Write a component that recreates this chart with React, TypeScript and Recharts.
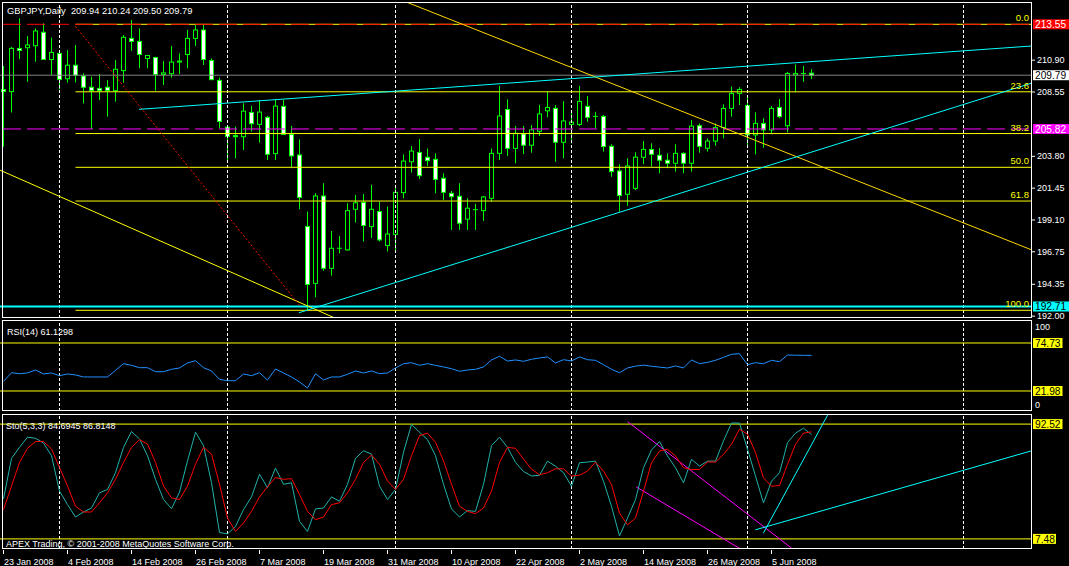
import React from 'react';
import { ComposedChart, Bar, Line, XAxis, YAxis, ReferenceLine } from 'recharts';

const FONT = "'Liberation Sans', Arial, Helvetica, sans-serif";
const GREEN = '#00ff00';

// ---- price data (GBPJPY daily, bar 0 = 23 Jan 2008) ----
const opens = [
  208.73, 208.58, 211.77, 211.82, 211.97, 212.96, 210.95, 211.40, 209.53, 210.53,
  209.73, 208.90, 208.82, 208.90, 208.65, 210.13, 212.51, 212.29, 211.02, 211.10,
  209.85, 209.90, 210.76, 211.32, 212.51, 213.13, 210.88, 209.41, 205.95, 205.33,
  205.25, 207.04, 206.16, 206.68, 204.00, 207.49, 205.42, 203.90, 198.61, 194.42,
  200.87, 195.53, 197.01, 196.89, 199.89, 200.40, 198.61, 199.72, 197.21, 198.04,
  201.12, 203.40, 204.09, 203.73, 203.58, 202.18, 201.07, 200.85, 199.16, 199.84,
  199.79, 200.70, 204.02, 207.26, 204.39, 205.45, 204.62, 205.65, 207.16, 207.34,
  204.84, 206.16, 206.16, 207.49, 206.75, 206.75, 204.54, 202.72, 201.00, 201.44,
  203.73, 204.31, 203.88, 203.51, 203.29, 204.02, 203.29, 206.06, 204.40, 204.93,
  205.92, 207.34, 208.45, 207.56, 205.38, 206.23, 205.75, 207.41, 206.06, 209.80,
  209.92, 209.94,
];
const highs = [
  210.47, 211.89, 214.00, 212.68, 213.25, 213.62, 212.56, 211.64, 211.64, 212.02,
  209.93, 209.68, 209.88, 209.43, 210.91, 212.76, 213.87, 213.25, 211.27, 211.15,
  210.84, 211.94, 211.40, 213.13, 213.50, 213.50, 211.02, 209.61, 206.00, 206.00,
  207.71, 207.54, 207.96, 206.78, 208.01, 207.96, 206.04, 205.05, 199.72, 201.08,
  201.81, 198.29, 197.92, 200.34, 200.95, 201.02, 201.69, 200.45, 200.09, 201.69,
  203.95, 204.56, 205.07, 204.38, 204.02, 202.55, 201.24, 201.81, 200.70, 200.29,
  200.87, 204.38, 209.00, 208.01, 206.04, 206.04, 206.11, 207.59, 208.57, 207.59,
  207.88, 207.09, 209.00, 208.25, 207.09, 206.85, 204.69, 203.22, 203.65, 204.10,
  204.93, 204.76, 204.40, 204.02, 204.69, 204.10, 206.48, 206.23, 205.13, 206.23,
  207.64, 208.95, 208.90, 208.33, 207.05, 206.61, 207.51, 208.03, 210.04, 210.58,
  210.48, 210.24,
];
const lows = [
  204.51, 207.04, 210.98, 209.31, 210.78, 210.93, 209.80, 208.75, 209.24, 209.26,
  207.71, 205.82, 207.96, 206.73, 207.83, 209.24, 211.59, 210.30, 210.30, 208.65,
  209.07, 209.61, 209.88, 210.30, 211.94, 210.55, 209.43, 205.87, 203.40, 203.65,
  204.26, 205.62, 204.81, 203.53, 203.53, 205.38, 202.92, 199.89, 192.45, 193.39,
  195.35, 194.99, 196.64, 196.84, 198.91, 197.51, 197.76, 197.51, 196.77, 196.89,
  200.70, 202.60, 202.13, 203.09, 201.07, 200.58, 198.37, 198.37, 198.37, 198.37,
  199.03, 200.45, 203.53, 203.83, 203.28, 203.97, 204.07, 205.30, 206.68, 203.40,
  203.65, 204.76, 206.03, 206.36, 205.87, 204.15, 202.30, 199.72, 200.15, 201.30,
  203.23, 203.04, 202.55, 202.92, 202.67, 202.55, 202.67, 204.07, 204.15, 204.59,
  205.13, 206.73, 207.59, 204.57, 203.95, 204.44, 205.43, 206.61, 205.57, 208.52,
  209.31, 209.50,
];
const closes = [
  208.58, 211.77, 211.62, 212.02, 213.06, 210.95, 211.47, 209.48, 210.53, 209.78,
  208.90, 208.65, 208.65, 208.65, 210.23, 212.59, 212.29, 211.32, 211.25, 209.85,
  209.96, 210.76, 210.84, 212.51, 213.13, 210.95, 209.46, 206.38, 205.28, 205.25,
  207.14, 206.21, 207.07, 203.95, 207.51, 205.42, 203.83, 200.77, 194.34, 200.87,
  195.53, 197.01, 196.98, 199.79, 200.37, 198.69, 199.89, 197.63, 198.06, 201.14,
  203.45, 204.19, 202.37, 203.48, 202.10, 201.14, 200.82, 198.86, 199.97, 199.86,
  200.80, 204.02, 206.78, 204.39, 205.50, 204.62, 205.75, 206.93, 207.41, 204.84,
  206.41, 206.33, 207.86, 206.68, 206.72, 204.52, 202.67, 200.90, 203.09, 203.74,
  204.31, 203.95, 203.51, 203.29, 204.02, 203.29, 206.03, 204.54, 204.93, 205.92,
  207.34, 208.45, 208.74, 205.38, 206.23, 205.75, 207.34, 206.73, 209.92, 209.92,
  209.86, 209.79,
];
const rsi14 = [
  32.6, 42.1, 41.0, 41.8, 45.1, 40.7, 41.8, 38.8, 40.7, 39.6,
  37.4, 37.4, 37.4, 37.4, 44.7, 52.0, 50.2, 47.6, 47.6, 43.2,
  43.2, 45.8, 47.3, 52.8, 55.3, 47.6, 44.0, 34.8, 33.3, 33.3,
  40.7, 38.8, 42.1, 34.1, 46.2, 41.8, 37.4, 31.9, 25.3, 41.0,
  34.1, 37.4, 37.4, 40.3, 44.0, 41.8, 44.0, 41.0, 41.8, 47.3,
  52.0, 53.1, 50.2, 52.0, 50.2, 48.4, 46.5, 43.6, 45.1, 45.8,
  48.4, 56.1, 60.1, 54.9, 56.1, 54.6, 56.8, 58.3, 59.4, 52.8,
  56.4, 55.0, 59.4, 56.4, 55.7, 50.9, 45.8, 42.1, 47.3, 49.3,
  50.4, 49.2, 48.2, 47.3, 49.5, 47.3, 56.1, 52.0, 53.5, 55.7,
  59.0, 62.3, 63.0, 50.9, 53.1, 52.0, 55.7, 54.2, 61.5, 61.3,
  61.2, 61.13,
];
const stochMain = [
  37.2, 67.1, 75.3, 82.8, 82.0, 78.5, 69.1, 42.9, 32.9, 23.7,
  27.4, 30.4, 41.6, 44.1, 56.6, 75.3, 87.0, 81.5, 69.1, 51.6,
  36.7, 29.9, 42.1, 65.3, 86.5, 76.6, 49.1, 12.2, 11.2, 16.7,
  29.2, 38.6, 55.4, 45.4, 59.9, 47.9, 49.1, 20.5, 13.0, 29.7,
  30.4, 38.6, 35.4, 47.9, 67.1, 72.8, 70.3, 46.6, 36.7, 44.1,
  71.6, 92.3, 86.5, 81.0, 69.1, 47.9, 29.7, 23.7, 28.4, 27.9,
  47.9, 76.6, 82.8, 75.3, 64.1, 57.4, 54.1, 54.6, 65.1, 61.4,
  56.5, 46.5, 63.9, 64.4, 65.1, 50.2, 31.6, 9.7, 22.9, 36.6,
  60.2, 73.4, 79.6, 68.9, 60.2, 49.0, 66.4, 61.4, 65.1, 65.1,
  80.1, 93.3, 93.3, 73.9, 54.0, 34.1, 50.2, 56.5, 78.8, 85.8,
  89.5, 84.69,
];
const stochSignal = [
  29.2, 46.6, 64.1, 74.6, 79.6, 79.6, 74.1, 60.4, 46.6, 31.7,
  27.4, 27.4, 34.2, 41.6, 51.6, 64.1, 75.3, 81.0, 77.8, 64.1,
  46.6, 37.9, 36.6, 46.6, 62.8, 75.3, 70.3, 47.9, 22.9, 13.0,
  19.2, 27.9, 38.6, 46.1, 52.9, 51.6, 52.1, 40.4, 27.9, 21.7,
  23.7, 32.9, 34.2, 41.6, 51.6, 64.1, 69.6, 62.8, 50.4, 44.1,
  51.6, 69.1, 84.0, 85.8, 79.1, 65.3, 47.9, 31.7, 27.9, 26.2,
  30.4, 42.9, 64.1, 75.3, 74.6, 66.6, 59.1, 55.0, 56.5, 59.4,
  59.4, 54.0, 54.7, 57.7, 64.4, 57.7, 47.7, 26.6, 17.9, 22.9,
  42.8, 63.9, 72.6, 73.9, 68.9, 60.2, 58.9, 58.9, 64.4, 64.4,
  70.1, 77.6, 88.8, 85.1, 71.4, 52.7, 46.5, 47.0, 62.7, 77.6,
  85.8, 86.81,
];

// ---- axis labels ----
const dateLabels = [
  '23 Jan 2008', '4 Feb 2008', '14 Feb 2008', '26 Feb 2008', '7 Mar 2008', '19 Mar 2008',
  '31 Mar 2008', '10 Apr 2008', '22 Apr 2008', '2 May 2008', '14 May 2008', '26 May 2008', '5 Jun 2008',
];
const labelBars = [0, 8, 16, 24, 32, 40, 48, 56, 64, 72, 80, 88, 96];
const monthStartBars = [7, 28, 49, 71, 93, 120];
const priceTicks = [192.0, 194.35, 196.75, 199.1, 201.45, 203.8, 208.55, 210.9];

// ---- objects on the chart ----
const fiboLabels = ['0.0', '23.6', '38.2', '50.0', '61.8', '100.0'];
const fiboRatios = [0, 0.236, 0.382, 0.5, 0.618, 1];
const fiboHigh = 213.55;
const fiboLow = 192.43;
const fiboStartBar = 9;
const redLevel = 213.55;
const bidLevel = 209.79;
const magentaLevel = 205.82;
const cyanLevel = 192.71;
const rsiLevels = [74.73, 21.98];
const stochLevels = [92.52, 7.48];

const goldTrend = [{ x: 50.5, y: 215.16 }, { x: 128.5625, y: 196.88 }];
const yellowTrend = [{ x: -0.4375, y: 202.78 }, { x: 42, y: 191.71 }];
const redDotTrend = [{ x: 9, y: 213.4 }, { x: 37, y: 192.8 }];
const cyanLowTrend = [{ x: 36.94, y: 192.25 }, { x: 128.5625, y: 209.215 }];
const cyanHighTrend = [{ x: 16.94, y: 207.27 }, { x: 128.5625, y: 211.95 }];
const stoMagentaA = [{ x: 78.03, y: 94.26 }, { x: 98.65, y: 0 }];
const stoMagentaB = [{ x: 79.09, y: 46.0 }, { x: 92.14, y: 0 }];
const stoCyanSteep = [{ x: 94.98, y: 11.7 }, { x: 103.09, y: 100 }];
const stoCyanFlat = [{ x: 93.98, y: 14.2 }, { x: 128.5625, y: 72.83 }];

const TOTAL_SLOTS = 129;
const X_DOMAIN: [number, number] = [-0.4375, 128.5625];
const MAIN_DOMAIN: [number, number] = [191.861, 215.197];

const rows = Array.from({ length: TOTAL_SLOTS }, (_, i) =>
  i < opens.length
    ? {
        i,
        o: opens[i],
        h: highs[i],
        l: lows[i],
        c: closes[i],
        range: [lows[i], highs[i]],
        rsi: rsi14[i],
        k: stochMain[i],
        d: stochSignal[i],
      }
    : { i }
);

const Candle = (props: any) => {
  const { x, y, width, height, payload } = props;
  if (!payload || payload.o == null || !Number.isFinite(x) || !Number.isFinite(y) || !Number.isFinite(height)) {
    return <g />;
  }
  const { o, h, l, c } = payload;
  const yTop = Math.min(y, y + height);
  const span = Math.abs(height);
  const k = h > l ? span / (h - l) : 0;
  const py = (p: number) => yTop + (h - p) * k;
  const cx = Math.round(x + width / 2) - 0.5;
  const bodyTop = py(Math.max(o, c));
  const bodyBot = py(Math.min(o, c));
  const bull = c > o;
  return (
    <g>
      <line x1={cx} x2={cx} y1={yTop} y2={yTop + span} stroke={GREEN} strokeWidth={1} />
      {bodyBot - bodyTop < 1 ? (
        <line x1={cx - 2.5} x2={cx + 2.5} y1={bodyTop} y2={bodyTop} stroke={GREEN} strokeWidth={1} />
      ) : (
        <rect x={cx - 2} y={bodyTop} width={4} height={bodyBot - bodyTop} fill={bull ? '#000' : '#fff'} stroke={GREEN} strokeWidth={1} />
      )}
    </g>
  );
};

const valueBox = (text: string, bg: string, fg: string) => (props: any) => {
  const vb = props.viewBox;
  if (!vb) return null;
  const x = vb.x + vb.width + 1;
  const digits = text.replace(/\D/g, '').length;
  const w = digits * 6.5 + 3.5;
  return (
    <g>
      <rect x={x} y={vb.y - 5} width={w} height={10} fill={bg} />
      <text x={x + 2} y={vb.y + 3.8} fill={fg} fontSize={10.2} fontFamily={FONT}>
        {text}
      </text>
    </g>
  );
};

const PriceTick = (props: any) => {
  const { x, y, payload } = props;
  return (
    <text x={x} y={Math.min(y, 315.5)} dy="0.35em" fill="#fff" fontSize={9} fontFamily={FONT}>
      {Number(payload.value).toFixed(2)}
    </text>
  );
};

const RsiTick = (props: any) => {
  const { x, y, payload } = props;
  const off = payload.value === 100 ? 7 : -6;
  return (
    <text x={x} y={y + off} dy="0.35em" fill="#fff" fontSize={9} fontFamily={FONT}>
      {payload.value}
    </text>
  );
};

const DateTick = (props: any) => {
  const { x, y, payload } = props;
  const idx = labelBars.indexOf(payload.value);
  if (idx < 0) return <g />;
  return (
    <g>
      <line x1={x} x2={x} y1={y + 1} y2={y + 5} stroke="#fff" strokeWidth={1} />
      <text x={x + 0.5} y={y + 16} fill="#fff" fontSize={9} fontFamily={FONT}>
        {dateLabels[idx]}
      </text>
    </g>
  );
};

const gridLines = (prefix: string) =>
  monthStartBars.map((b) => (
    <ReferenceLine key={prefix + b} xAxisId="n" x={b} stroke="#ffffff" strokeDasharray="3 2" />
  ));

const numAxis = <XAxis xAxisId="n" dataKey="i" type="number" domain={X_DOMAIN} allowDataOverflow hide />;

export default function App() {
  const fiboValues = fiboRatios.map((r) => fiboHigh - r * (fiboHigh - fiboLow));
  return (
    <div
      style={{
        position: 'fixed',
        left: 0,
        top: 0,
        width: 1069,
        height: 566,
        background: '#000',
        overflow: 'hidden',
      }}
    >
      {/* main price panel */}
      <div style={{ position: 'absolute', left: 0, top: 0 }}>
        <ComposedChart width={1069} height={322} data={rows} margin={{ top: 2, right: 0, bottom: 4, left: 0 }}>
          <XAxis xAxisId="c" dataKey="i" type="category" hide />
          {numAxis}
          <YAxis
            orientation="right"
            width={37}
            domain={MAIN_DOMAIN}
            allowDataOverflow
            ticks={priceTicks}
            interval={0}
            tickSize={3}
            tickMargin={2}
            axisLine={false}
            tickLine={{ stroke: '#fff' }}
            tick={PriceTick}
          />
          {gridLines('m')}
          <Bar xAxisId="c" dataKey="range" barSize={6} shape={Candle} isAnimationActive={false} />
          {fiboValues.map((v, idx) => (
            <ReferenceLine
              key={'fibo' + idx}
              xAxisId="n"
              segment={[{ x: fiboStartBar, y: v }, { x: X_DOMAIN[1], y: v }]}
              stroke="#ffff00"
              label={{
                value: fiboLabels[idx],
                position: 'insideBottomRight',
                offset: 3,
                fill: '#ffff00',
                fontSize: 9.5,
                fontFamily: FONT,
              }}
            />
          ))}
          <ReferenceLine xAxisId="n" y={bidLevel} stroke="#808080" label={valueBox(bidLevel.toFixed(2), '#ffffff', '#000000')} />
          <ReferenceLine
            xAxisId="n"
            y={magentaLevel}
            stroke="#ff00ff"
            strokeDasharray="18 6"
            strokeDashoffset={21}
            label={valueBox(magentaLevel.toFixed(2), '#ff00ff', '#ffffff')}
          />
          <ReferenceLine
            xAxisId="n"
            y={redLevel}
            stroke="#ff0000"
            strokeDasharray="18 6"
            strokeDashoffset={21}
            label={valueBox(redLevel.toFixed(2), '#ff0000', '#ffffff')}
          />
          <ReferenceLine
            xAxisId="n"
            y={cyanLevel}
            stroke="#00ffff"
            strokeWidth={2}
            label={valueBox(cyanLevel.toFixed(2), '#00ffff', '#000000')}
          />
          <ReferenceLine xAxisId="n" segment={goldTrend} stroke="#ffd700" ifOverflow="hidden" />
          <ReferenceLine xAxisId="n" segment={yellowTrend} stroke="#ffff00" ifOverflow="hidden" />
          <ReferenceLine xAxisId="n" segment={redDotTrend} stroke="#ff0000" strokeDasharray="2 2" ifOverflow="hidden" />
          <ReferenceLine xAxisId="n" segment={cyanLowTrend} stroke="#00ffff" ifOverflow="hidden" />
          <ReferenceLine xAxisId="n" segment={cyanHighTrend} stroke="#00ffff" ifOverflow="hidden" />
        </ComposedChart>
      </div>

      {/* RSI panel */}
      <div style={{ position: 'absolute', left: 0, top: 320 }}>
        <ComposedChart width={1069} height={91} data={rows} margin={{ top: 0, right: 0, bottom: 0, left: 0 }}>
          {numAxis}
          <YAxis
            orientation="right"
            width={37}
            domain={[0, 100]}
            allowDataOverflow
            ticks={[0, 100]}
            interval={0}
            tickSize={0}
            tickMargin={3}
            axisLine={false}
            tickLine={false}
            tick={RsiTick}
          />
          {gridLines('r')}
          {rsiLevels.map((v) => (
            <ReferenceLine key={'rl' + v} xAxisId="n" y={v} stroke="#ffff00" label={valueBox(v.toFixed(2), '#ffff00', '#000000')} />
          ))}
          <Line xAxisId="n" dataKey="rsi" stroke="#1e90ff" strokeWidth={1} dot={false} isAnimationActive={false} />
        </ComposedChart>
      </div>

      {/* Stochastic panel */}
      <div style={{ position: 'absolute', left: 0, top: 414 }}>
        <ComposedChart width={1069} height={152} data={rows} margin={{ top: 0, right: 0, bottom: 0, left: 0 }}>
          <XAxis
            xAxisId="n"
            dataKey="i"
            type="number"
            domain={X_DOMAIN}
            allowDataOverflow
            ticks={labelBars}
            interval={0}
            height={17}
            tickSize={0}
            tickMargin={0}
            axisLine={false}
            tickLine={false}
            tick={DateTick}
          />
          <YAxis orientation="right" width={37} domain={[0, 100]} allowDataOverflow tick={false} axisLine={false} tickLine={false} />
          {gridLines('s')}
          {stochLevels.map((v) => (
            <ReferenceLine key={'sl' + v} xAxisId="n" y={v} stroke="#ffff00" label={valueBox(v.toFixed(2), '#ffff00', '#000000')} />
          ))}
          <ReferenceLine xAxisId="n" segment={stoMagentaA} stroke="#ff00ff" ifOverflow="hidden" />
          <ReferenceLine xAxisId="n" segment={stoMagentaB} stroke="#ff00ff" ifOverflow="hidden" />
          <ReferenceLine xAxisId="n" segment={stoCyanSteep} stroke="#00ffff" ifOverflow="hidden" />
          <ReferenceLine xAxisId="n" segment={stoCyanFlat} stroke="#00ffff" ifOverflow="hidden" />
          <Line xAxisId="n" dataKey="k" stroke="#20b2aa" strokeWidth={1} dot={false} isAnimationActive={false} />
          <Line xAxisId="n" dataKey="d" stroke="#ff0000" strokeWidth={1} dot={false} isAnimationActive={false} />
        </ComposedChart>
      </div>

      {/* frames and captions */}
      <svg width={1069} height={566} style={{ position: 'absolute', left: 0, top: 0, pointerEvents: 'none' }}>
        <rect x={2.5} y={2.5} width={1029} height={315} fill="none" stroke="#fff" />
        <rect x={2.5} y={320.5} width={1029} height={90} fill="none" stroke="#fff" />
        <rect x={2.5} y={414.5} width={1029} height={134} fill="none" stroke="#fff" />
        <text x={7} y={14} fill="#fff" fontSize={9.3} fontFamily={FONT} style={{ whiteSpace: 'pre' }}>
          {'GBPJPY,Daily  209.94 210.24 209.50 209.79'}
        </text>
        <text x={7} y={334.5} fill="#fff" fontSize={9} fontFamily={FONT}>
          RSI(14) 61.1298
        </text>
        <text x={6} y={428.5} fill="#fff" fontSize={9} fontFamily={FONT}>
          Sto(5,3,3) 84.6945 86.8148
        </text>
        <text x={6} y={547} fill="#fff" fontSize={9} fontFamily={FONT}>
          APEX Trading, © 2001-2008 MetaQuotes Software Corp.
        </text>
      </svg>
    </div>
  );
}
